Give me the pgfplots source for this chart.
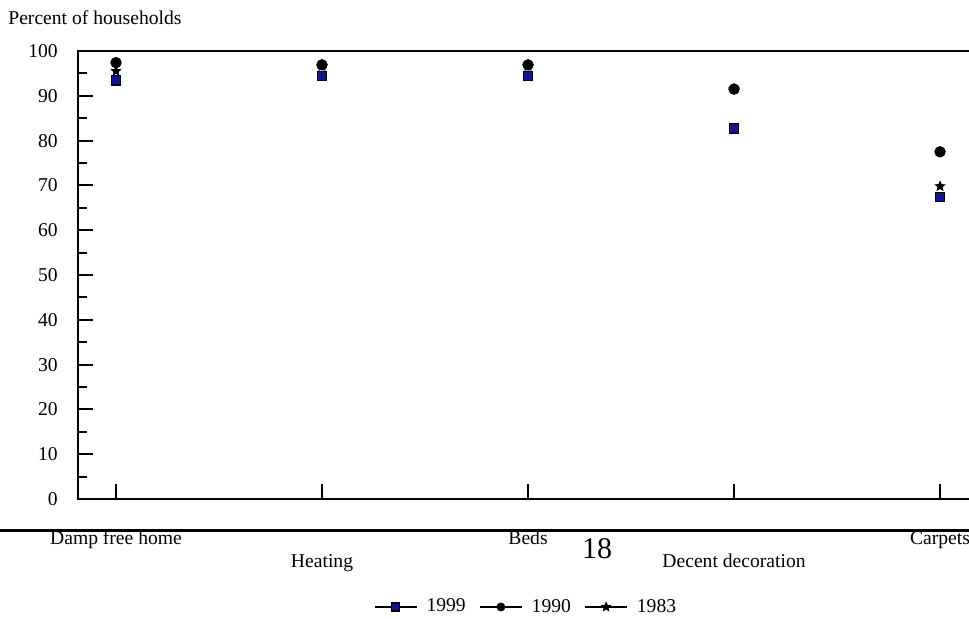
\documentclass[border=0pt]{standalone}
\usepackage{fontspec}
\setmainfont{Liberation Serif}
\usepackage{pgfplots}
\pgfplotsset{compat=1.18}
\definecolor{navyfill}{RGB}{20,20,140}
\pgfdeclareplotmark{fstar}{%
  \pgfpathmoveto{\pgfpointpolar{90}{\pgfplotmarksize}}%
  \pgfpathlineto{\pgfpointpolar{126}{0.45\pgfplotmarksize}}%
  \pgfpathlineto{\pgfpointpolar{162}{\pgfplotmarksize}}%
  \pgfpathlineto{\pgfpointpolar{198}{0.45\pgfplotmarksize}}%
  \pgfpathlineto{\pgfpointpolar{234}{\pgfplotmarksize}}%
  \pgfpathlineto{\pgfpointpolar{270}{0.45\pgfplotmarksize}}%
  \pgfpathlineto{\pgfpointpolar{306}{\pgfplotmarksize}}%
  \pgfpathlineto{\pgfpointpolar{342}{0.45\pgfplotmarksize}}%
  \pgfpathlineto{\pgfpointpolar{18}{\pgfplotmarksize}}%
  \pgfpathlineto{\pgfpointpolar{54}{0.45\pgfplotmarksize}}%
  \pgfpathclose
  \pgfusepathqfillstroke}
\begin{document}
\fontsize{9.8}{11.75}\selectfont
\begin{tikzpicture}
\useasboundingbox (-39pt,-60pt) rectangle (445.5pt,249.5pt);
\begin{axis}[
  at={(0,0)}, anchor=south west,
  scale only axis, width=461pt, height=224pt,
  xmin=-0.1845, xmax=4.291, ymin=0, ymax=100,
  axis line style={line width=1pt},
  ytick={0,10,...,100}, minor y tick num=1,
  xtick={0,1,2,3,4},
  xticklabels={{\strut Damp free home},{\strut\\\strut Heating},{\strut Beds},{\strut\\\strut Decent decoration},{\strut Carpets}},
  xticklabel style={align=center, yshift=-11pt},
  yticklabel style={xshift=-6.7pt},
  /pgf/number format/assume math mode=true,
  tick align=inside, tick pos=left,
  major tick length=7.5pt, minor tick length=4.5pt,
  every tick/.style={black, line width=1pt},
  clip=false,
  legend style={at={(axis description cs:0.487,-0.241)}, anchor=center, draw=none, fill=none,
    /tikz/every even column/.append style={column sep=4.7pt}},
  legend columns=3,
]
\addplot[only marks, mark=square*, mark size=2.4pt, mark options={draw=black, fill=navyfill, line width=0.6pt},
  legend image code/.code={\draw[black, line width=0.8pt] (0pt,0pt)--(21pt,0pt);
    \draw[black, fill=navyfill, line width=0.6pt] plot[only marks, mark=square*, mark size=2pt] coordinates {(10.5pt,0pt)};
    \path (23.7pt,0pt);}]
  coordinates {(0,93.5) (1,94.4) (2,94.4) (3,82.7) (4,67.4)};
\addlegendentry{1999}
% 1983 drawn before 1990 so that the circles cover it where they coincide
\addplot[forget plot, only marks, mark=fstar, mark size=2.45pt, mark options={draw=black, fill=black, line width=0.4pt}]
  coordinates {(0,95.5) (1,96.6) (2,96.6) (3,91.5) (4,69.8)};
\addplot[only marks, mark=*, mark size=2.65pt, mark options={draw=black, fill=black},
  legend image code/.code={\draw[black, line width=0.8pt] (0pt,0pt)--(21pt,0pt);
    \draw[black, fill=black] plot[only marks, mark=*, mark size=2pt] coordinates {(10.5pt,0pt)};
    \path (23.7pt,0pt);}]
  coordinates {(0,97.4) (1,96.9) (2,96.9) (3,91.5) (4,77.5)};
\addlegendentry{1990}
\addlegendimage{legend image code/.code={\draw[black, line width=0.8pt] (0pt,0pt)--(21pt,0pt);
    \draw[black, fill=black, line width=0.4pt] plot[only marks, mark=fstar, mark size=2.3pt] coordinates {(10.5pt,0pt)};
    \path (23.7pt,0pt);}}
\addlegendentry{1983}
\end{axis}
\node[anchor=base west, inner sep=0pt] at (-35pt,237pt) {Percent of households};
\draw[black, line width=1.75pt] (-39pt,-15.85pt) -- (445.5pt,-15.85pt);
\node[inner sep=0pt, font=\fontsize{15}{18}\selectfont] at (259.5pt,-25pt) {18};
\end{tikzpicture}
\end{document}
